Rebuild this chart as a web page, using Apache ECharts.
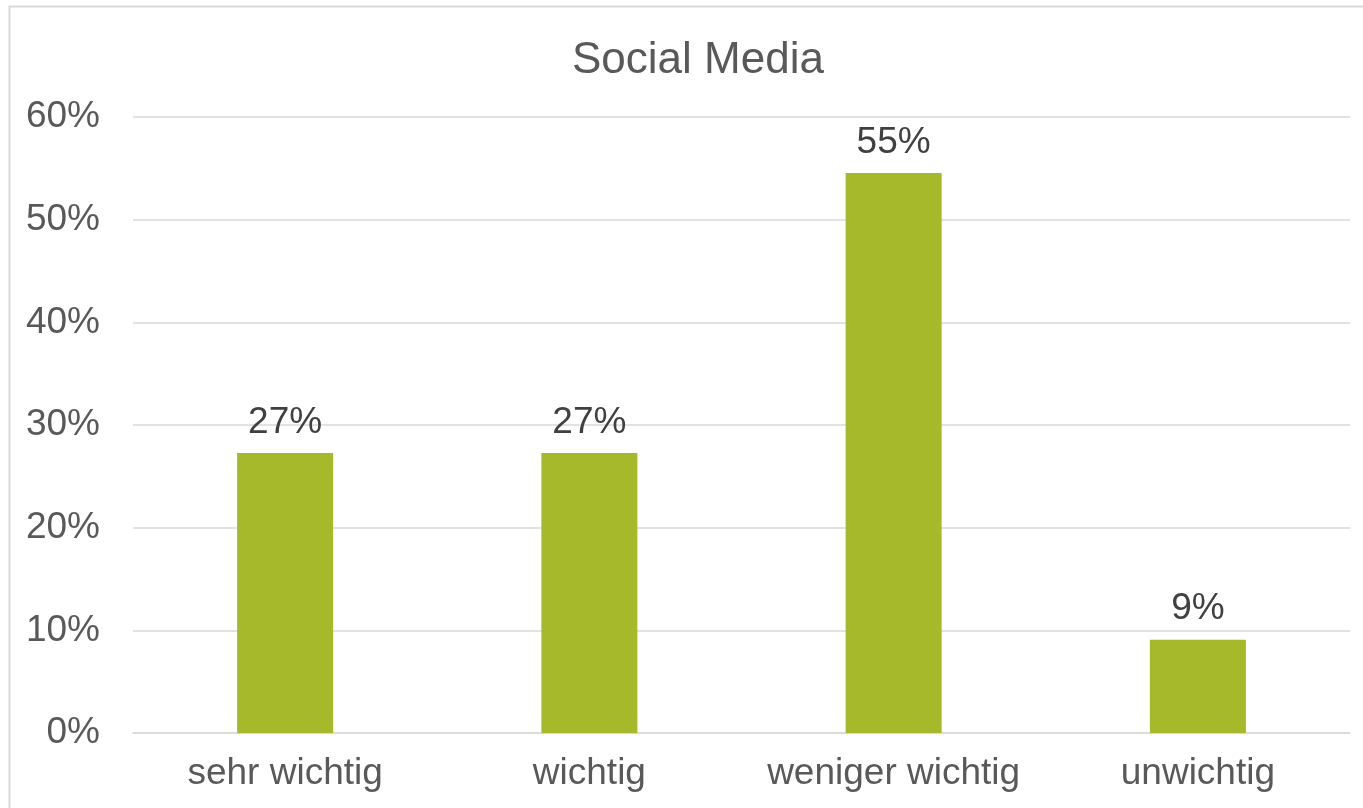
<!DOCTYPE html>
<html>
<head>
<meta charset="utf-8">
<style>
  html, body { margin: 0; padding: 0; background: #fff; }
  #chart { width: 1363px; height: 808px; }
</style>
<script src="https://cdn.jsdelivr.net/npm/echarts@6/dist/echarts.min.js"></script>
</head>
<body>
<div id="chart"></div>
<script>
// Survey result: how important social media is rated
const categories = ['sehr wichtig', 'wichtig', 'weniger wichtig', 'unwichtig'];
const shares = [27.27, 27.27, 54.55, 9.09];   // percent of respondents
const yTicks = [0, 10, 20, 30, 40, 50, 60];  // percent

const FONT = '"Liberation Sans", Arial, sans-serif';

const chart = echarts.init(document.getElementById('chart'), null, { renderer: 'canvas' });

chart.setOption({
  backgroundColor: '#ffffff',
  animation: false,
  title: {
    text: 'Social Media',
    left: 567,
    top: 34,
    textStyle: { fontFamily: FONT, fontSize: 44, fontWeight: 'normal', color: '#595959' }
  },
  grid: { left: 133, right: 13, top: 117, bottom: 75, containLabel: false },
  xAxis: {
    type: 'category',
    data: categories,
    axisLine: { show: true, lineStyle: { color: '#D9D9D9', width: 1.5 } },
    axisTick: { show: false },
    axisLabel: { interval: 0, fontFamily: FONT, fontSize: 37, color: '#595959', margin: 22 }
  },
  yAxis: {
    type: 'value',
    min: yTicks[0],
    max: yTicks[yTicks.length - 1],
    interval: yTicks[1] - yTicks[0],
    axisLine: { show: false },
    axisTick: { show: false },
    splitLine: { lineStyle: { color: '#D9D9D9', width: 1.5 } },
    axisLabel: {
      fontFamily: FONT, fontSize: 37, color: '#595959', margin: 33,
      formatter: v => v + '%'
    }
  },
  series: [{
    type: 'bar',
    data: shares,
    barWidth: 96,
    itemStyle: { color: '#A6B92A' },
    label: {
      show: true,
      position: 'top',
      distance: 12,
      fontFamily: FONT, fontSize: 37, color: '#404040',
      formatter: p => Math.round(p.value) + '%'
    }
  }],
  graphic: [{
    type: 'rect',
    silent: true,
    shape: { x: 9.5, y: 6.5, width: 1400, height: 900 },
    style: { fill: null, stroke: '#D9D9D9', lineWidth: 2 }
  }]
});
</script>
</body>
</html>
